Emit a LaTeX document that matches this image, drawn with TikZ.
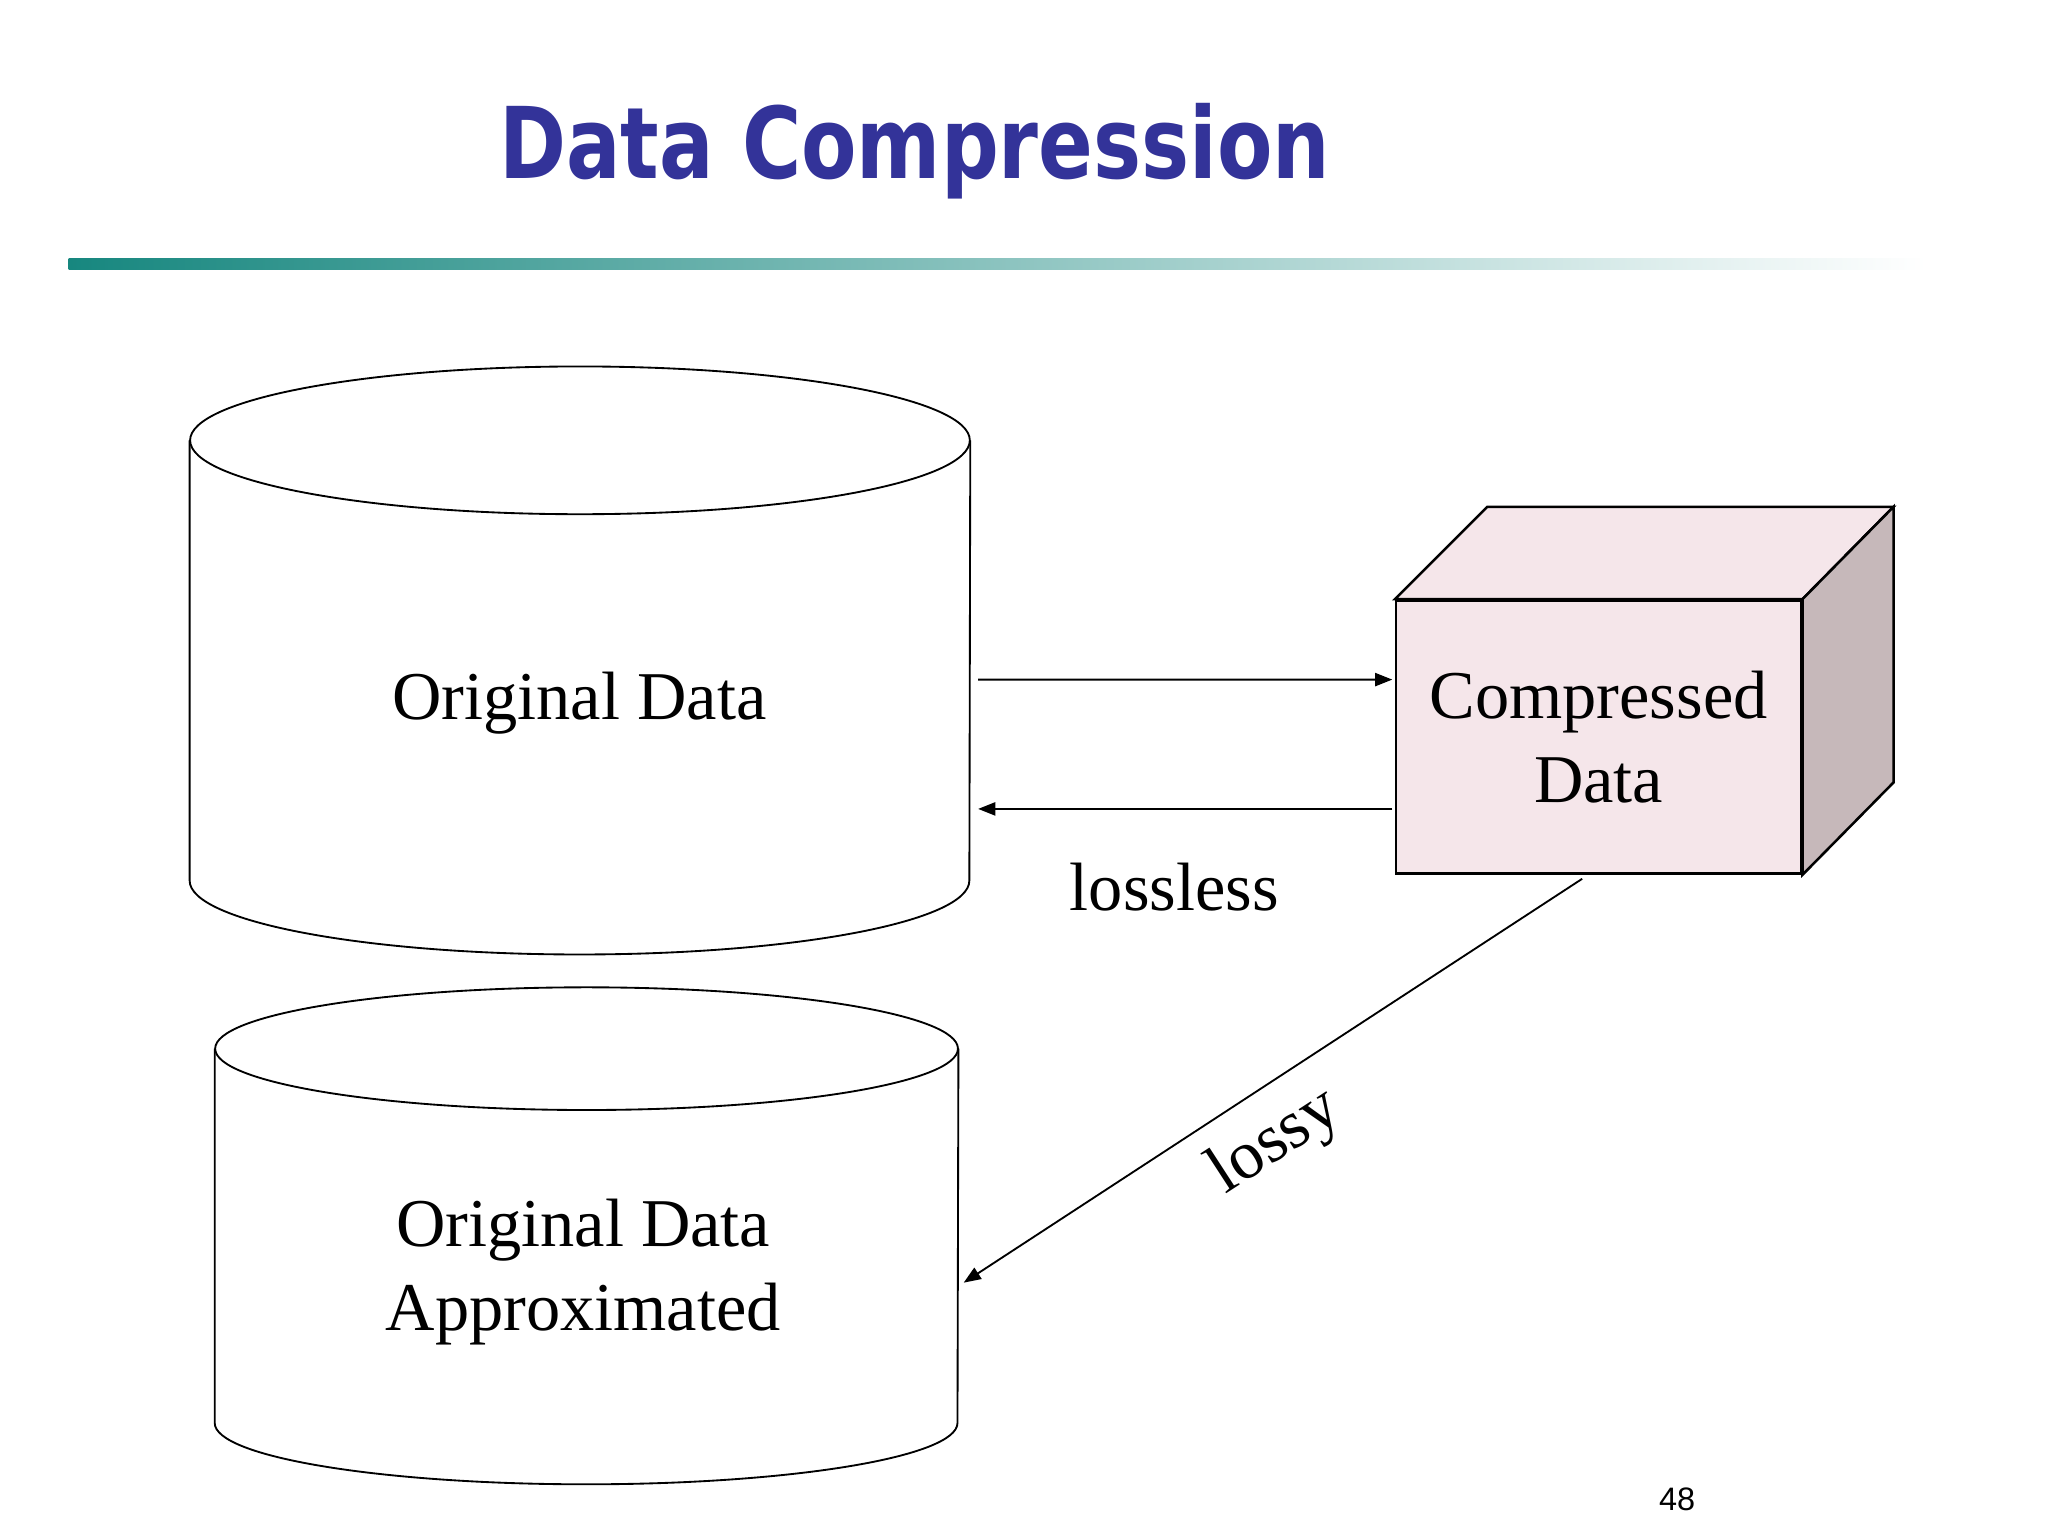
\documentclass[tikz,border=0pt]{standalone}
\usepackage{fontspec}
\setmainfont{Liberation Serif}
\newfontfamily\titlefont{DejaVu Sans}
\newfontfamily\numfont{Liberation Sans}
\usepackage{tikz}
\usetikzlibrary{
  positioning, arrows.meta,
  shapes.geometric
}
\definecolor{titleblue}{HTML}{333399}
\definecolor{ruleteal}{HTML}{17877F}
\definecolor{boxfront}{HTML}{F5E6EA}
\definecolor{boxside}{HTML}{C6B8BA}
% cylinder outline round a body node: name, x radius, y radius
\newcommand{\drawcyl}[3]{%
  \draw[line width=0.8pt] (#1.north west) -- (#1.south west)
    arc[start angle=180, end angle=360, x radius=#2, y radius=#3]
    -- (#1.north east);
  \draw[line width=0.8pt] (#1.north) ellipse[x radius=#2, y radius=#3];}

\begin{document}
\begin{tikzpicture}[x=0.02cm,y=-0.02cm,
    lbl/.style={font=\fontsize{29.5}{36}\selectfont, inner sep=0pt, align=center},
    dbbody/.style={inner sep=0pt},
    flow/.style={-{Triangle[length=0.26cm,width=0.2cm]}, line width=0.8pt}]
  \useasboundingbox (0,0) rectangle (1552,1164);
  \node[anchor=base west, text=titleblue, inner sep=0pt] (title) at (378,135)
    {\scalebox{0.816}[1]{\titlefont\bfseries\fontsize{42.7}{50}\selectfont Data Compression}};
  \shade[left color=ruleteal, right color=white] (52,196) rectangle (1460,204);

  \node[dbbody, minimum width=11.82cm, minimum height=6.66cm] (orig) at (439.5,500.5) {};
  \drawcyl{orig}{5.91cm}{1.12cm}
  \node[lbl] (origtxt) at (439,533) {Original Data};

  \node[dbbody, minimum width=11.26cm, minimum height=5.66cm] (approx) at (444.5,936.5) {};
  \drawcyl{approx}{5.63cm}{0.93cm}
  \node[lbl] (approxtxt) at (442,964) {Original Data\\Approximated};

  \node[lbl, draw, fill=boxfront, line width=1.1pt, minimum width=6.14cm,
    minimum height=4.14cm] (comp) at (1211.5,558.5) {Compressed\\Data};
  \draw[fill=boxfront, line width=1.1pt] (comp.north west) -- ++(70,-70)
    -- ([shift={(69,-70)}]comp.north east) -- (comp.north east) -- cycle;
  \draw[fill=boxside, line width=1.1pt] (comp.north east) -- ++(69,-70)
    -- ([shift={(69,-70)}]comp.south east) -- (comp.south east) -- cycle;

  \draw[flow] ([shift={(6,14.5)}]orig.east) -- ([shift={(-2,-43.5)}]comp.west);
  \draw[flow] ([shift={(-2,54.5)}]comp.west) -- ([shift={(6,112.5)}]orig.east);
  \node[lbl] (lossless) at (890,672) {lossless};
  \draw[flow] ([shift={(-12.5,3)}]comp.south) -- ([shift={(4,35.5)}]approx.east);
  \node[lbl, rotate=33] (lossy) at (967,866) {lossy};

  \node[font=\numfont\fontsize{14}{16}\selectfont, inner sep=0pt] (pagenum) at (1271,1136) {48};
\end{tikzpicture}
\end{document}
